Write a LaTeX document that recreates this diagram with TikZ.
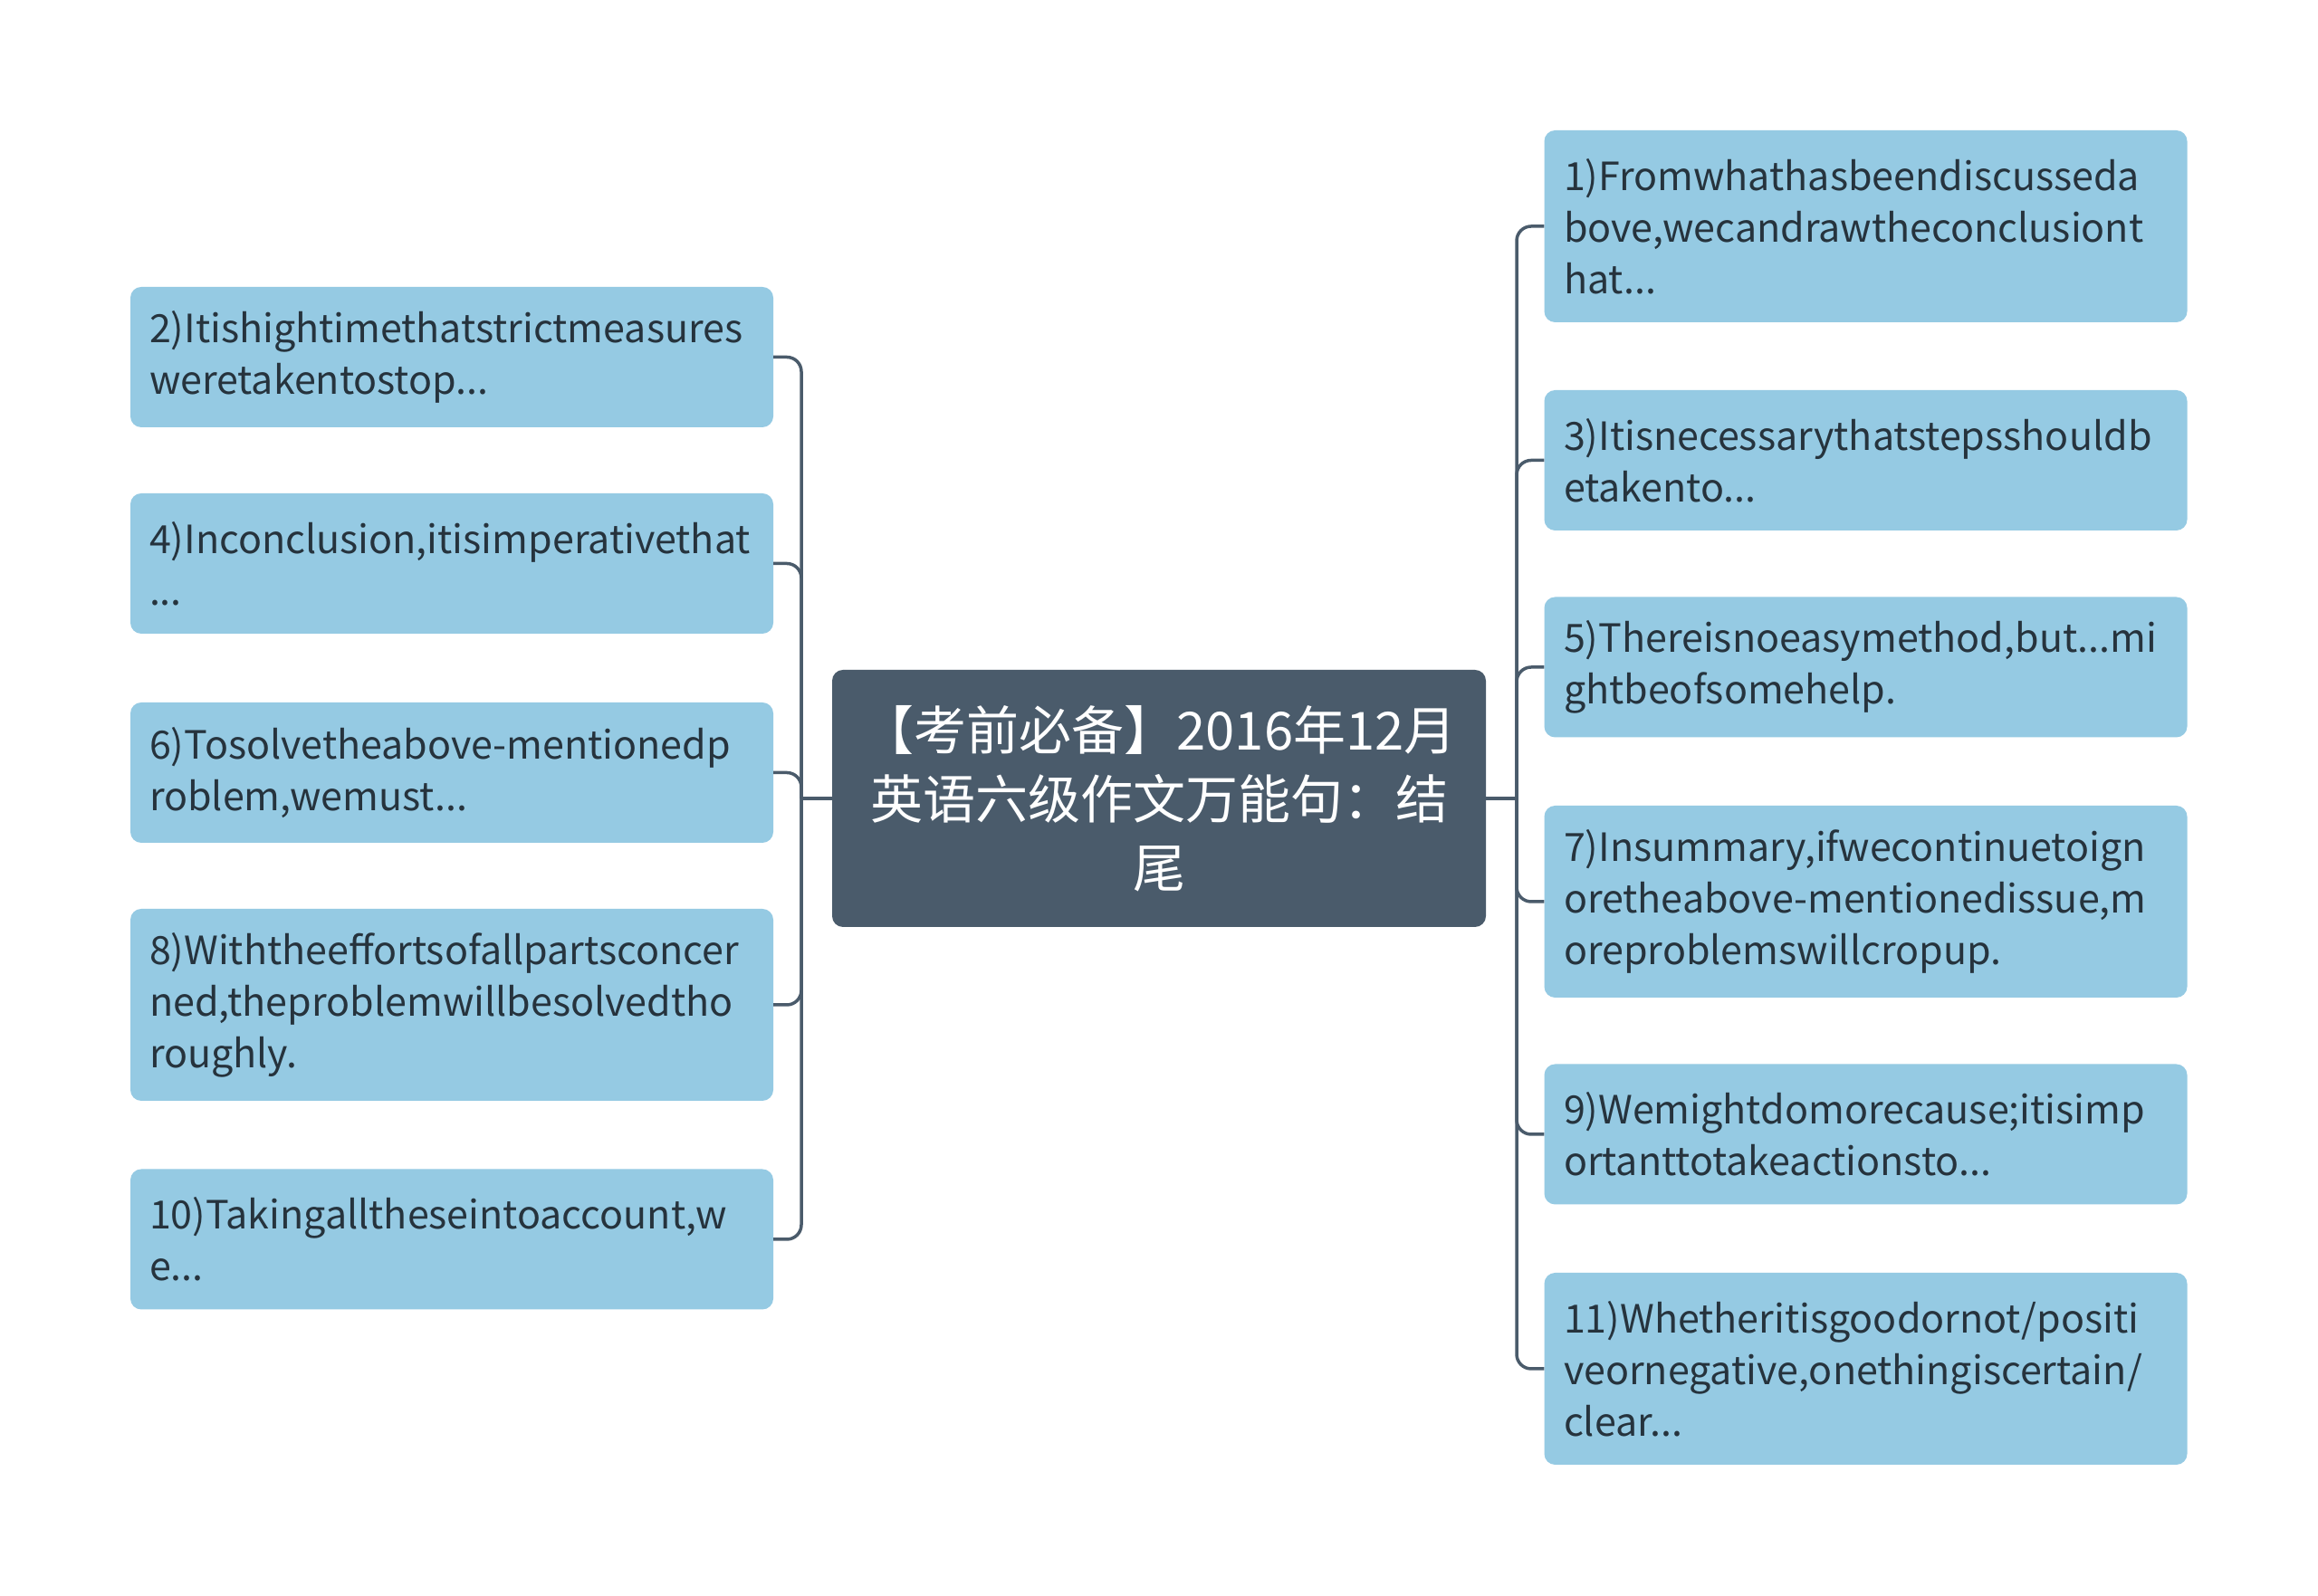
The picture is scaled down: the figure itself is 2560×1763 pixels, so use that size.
\documentclass[tikz,border=0pt]{standalone}
\usepackage{fontspec}
\setmainfont{Noto Sans CJK SC}
\definecolor{centerfill}{HTML}{4A5B6B}
\definecolor{childfill}{HTML}{95CAE3}
\definecolor{childtext}{HTML}{26333D}
\definecolor{linecol}{HTML}{4A5B6B}
\begin{document}
\begin{tikzpicture}[x=1pt,y=1pt,
  childbox/.style={draw=none,fill=childfill,rounded corners=12pt,minimum width=710pt,
    text width=690pt,inner xsep=21pt,inner ysep=0pt,align=left,text=childtext,
    font=\fontsize{43}{57}\selectfont},
  two/.style={minimum height=155pt},
  three/.style={minimum height=212pt},
  centerbox/.style={fill=centerfill,rounded corners=12pt,minimum width=722pt,minimum height=284pt,
    text width=700pt,align=center,text=white,inner sep=0pt,font=\fontsize{58}{76}\selectfont},
  conn/.style={draw=linecol,line width=3.5pt,rounded corners=16pt}
]
\useasboundingbox (0,0) rectangle (2560,1763);
\fill[white] (0,0) rectangle (2560,1763);

\node[centerbox] (c) at (1280,881) {【考前必备】2016年12月\\英语六级作文万能句：结\\尾};

% left side
\node[childbox,two,text width=668pt] (n2) at (499,1368.5) {2)Itishightimethatstrictmeasures\\weretakentostop...};
\node[childbox,two,text width=668pt] (n4) at (499,1140.5) {4)Inconclusion,itisimperativethat\\...};
\node[childbox,two,text width=668pt] (n6) at (499,909.5) {6)Tosolvetheabove-mentionedp\\roblem,wemust...};
\node[childbox,three,text width=668pt] (n8) at (499,653) {8)Withtheeffortsofallpartsconcer\\ned,theproblemwillbesolvedtho\\roughly.};
\node[childbox,two,text width=668pt] (n10) at (499,394) {10)Takingalltheseintoaccount,w\\e...};

% right side
\node[childbox,three,text width=667pt] (n1) at (2060.5,1513) {1)Fromwhathasbeendiscusseda\\bove,wecandrawtheconclusiont\\hat...};
\node[childbox,two,text width=667pt] (n3) at (2060.5,1254.5) {3)Itisnecessarythatstepsshouldb\\etakento...};
\node[childbox,two,text width=667pt] (n5) at (2060.5,1026) {5)Thereisnoeasymethod,but...mi\\ghtbeofsomehelp.};
\node[childbox,three,text width=667pt] (n7) at (2060.5,767) {7)Insummary,ifwecontinuetoign\\oretheabove-mentionedissue,m\\oreproblemswillcropup.};
\node[childbox,two,text width=667pt] (n9) at (2060.5,510) {9)Wemightdomorecause;itisimp\\ortanttotakeactionsto...};
\node[childbox,three,text width=667pt] (n11) at (2060.5,251) {11)Whetheritisgoodornot/positi\\veornegative,onethingiscertain/\\clear...};

\coordinate (tl) at (885,881);
\coordinate (tr) at (1675,881);

\draw[conn] (c.west) -- (tl);
\draw[conn] (c.east) -- (tr);
\foreach \n in {n2,n4,n6,n8,n10} {\draw[conn] (tl) |- (\n.east);}
\foreach \n in {n1,n3,n5,n7,n9,n11} {\draw[conn] (tr) |- (\n.west);}
\end{tikzpicture}
\end{document}
